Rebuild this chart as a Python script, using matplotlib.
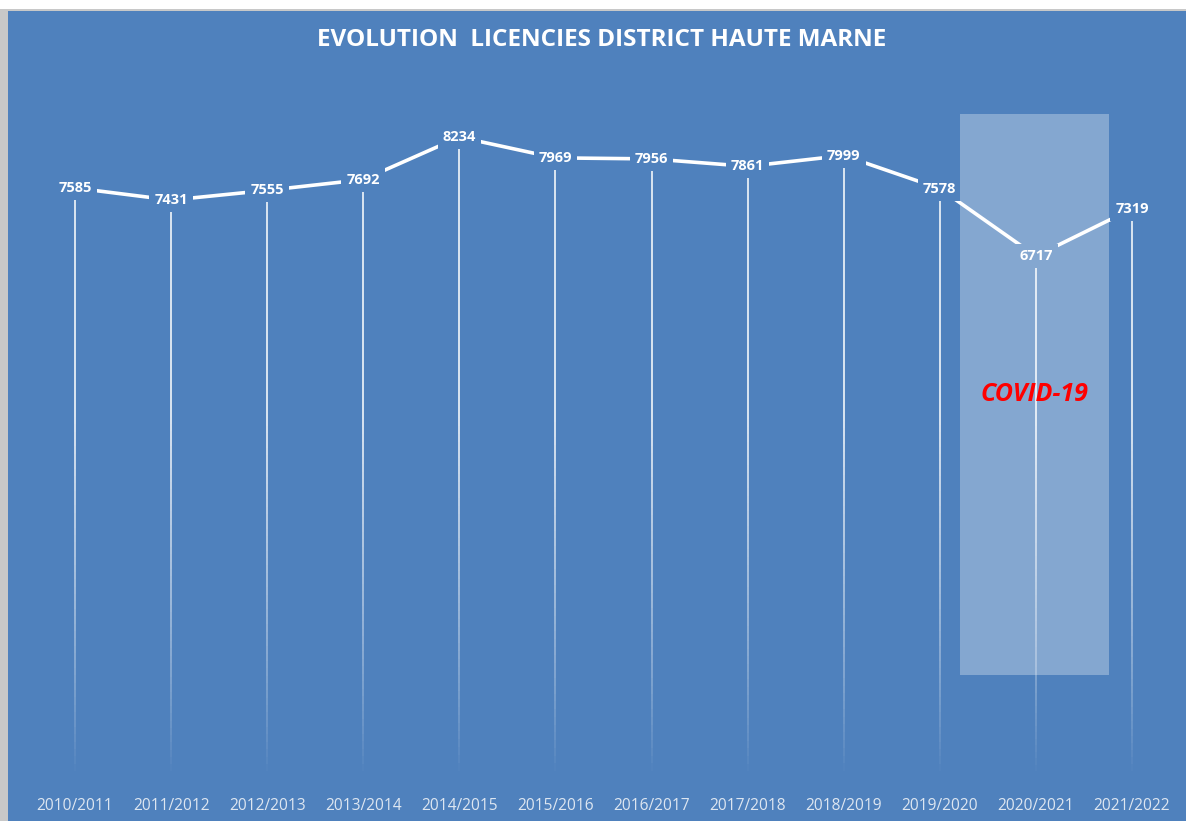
import numpy as np
import matplotlib.pyplot as plt
from matplotlib.patches import Rectangle
from matplotlib.collections import LineCollection

seasons = ['2010/2011', '2011/2012', '2012/2013', '2013/2014', '2014/2015', '2015/2016',
           '2016/2017', '2017/2018', '2018/2019', '2019/2020', '2020/2021', '2021/2022']
licences = [7585, 7431, 7555, 7692, 8234, 7969, 7956, 7861, 7999, 7578, 6717, 7319]

# covid highlight box (data coords)
covid_x = (9.21, 10.76)
covid_y = (1380, 8530)

bg = '#4F81BD'

plt.rcParams['font.family'] = ['Open Sans', 'DejaVu Sans']

fig = plt.figure(figsize=(11.86, 8.21), dpi=100)
fig.patch.set_facecolor('white')

# chart area with grey frame on left / top
fig.patches.append(Rectangle((0, 0), 1, 1 - 9 / 821, transform=fig.transFigure,
                             facecolor='#C8C8C8', edgecolor='none', zorder=-2))
fig.patches.append(Rectangle((8 / 1186, 0), 1, 1 - 11 / 821, transform=fig.transFigure,
                             facecolor=bg, edgecolor='none', zorder=-1))

ax = fig.add_axes([27 / 1186, 1 - 783 / 821, 1153 / 1186, 706 / 821])
ax.set_facecolor('none')
x = np.arange(len(seasons))
ax.set_xlim(-0.5, len(seasons) - 0.5)
ax.set_ylim(0, 9000)

# covid box: semi-transparent white on top (white marks stay white)
ax.add_patch(Rectangle((covid_x[0], covid_y[0]), covid_x[1] - covid_x[0], covid_y[1] - covid_y[0],
                       facecolor='white', alpha=0.3, edgecolor='none', zorder=5))

# fading drop lines
for xi, v in zip(x, licences):
    ys = np.linspace(v, 150, 80)
    segs = [[(xi, ys[k]), (xi, ys[k + 1])] for k in range(len(ys) - 1)]
    mid = (ys[:-1] + ys[1:]) / 2
    a = np.clip((mid - 150) / 4500, 0, 1) ** 0.8 * 0.85
    cols = [(1, 1, 1, ai) for ai in a]
    ax.add_collection(LineCollection(segs, colors=cols, linewidths=1.3, zorder=2))

ax.plot(x, licences, color='white', lw=2.6, solid_capstyle='butt', zorder=3)

for xi, v in zip(x, licences):
    ax.text(xi, v, str(v), ha='center', va='center', color='white', fontsize=10.5,
            fontweight='bold', zorder=4,
            bbox=dict(boxstyle='square,pad=0.35', facecolor=bg, edgecolor='none'))

ax.text(np.mean(covid_x), 4950, 'COVID-19', ha='center', va='center', color='#FF0000',
        fontsize=18, fontweight='bold', fontstyle='italic', zorder=6)

ax.set_xticks(x)
ax.set_xticklabels(seasons, color='#DDE6F1', fontsize=11.2)
ax.tick_params(axis='x', length=0, pad=11)
ax.set_yticks([])
for s in ax.spines.values():
    s.set_visible(False)

fig.text(602 / 1186, 1 - 40 / 821, 'EVOLUTION  LICENCIES DISTRICT HAUTE MARNE', ha='center',
         va='center', color='white', fontsize=17.5, fontweight='bold')

fig.savefig('out.png', dpi=100, facecolor=fig.get_facecolor())
